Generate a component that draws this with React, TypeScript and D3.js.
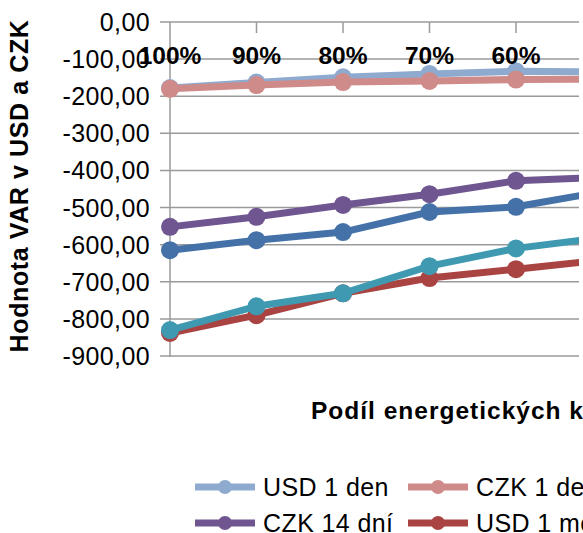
import { useEffect, useRef } from 'react';
import * as d3 from 'd3';

// podíl energetických komodit (kategorie)
const categories = ['100%', '90%', '80%', '70%', '60%', '50%'];

// hodnoty VAR jednotlivých řad
const usd1den = [-178, -163, -149, -140, -133, -134];
const czk1den = [-180, -170, -162, -159, -155, -154];
const usd14dni = [-615, -588, -566, -512, -498, -457];
const czk14dni = [-552, -525, -493, -464, -428, -418];
const usd1mesic = [-838, -790, -731, -690, -666, -641];
const czk1mesic = [-830, -766, -731, -658, -610, -581];

const seriesNames = ['USD 1 den', 'CZK 1 den', 'USD 14 dní', 'CZK 14 dní', 'USD 1 měsíc', 'CZK 1 měsíc'];
const seriesColors = ['#8FAACF', '#CF8B8A', '#4472A8', '#6F5690', '#A94442', '#3F9AB1'];
const yTicks = [0, -100, -200, -300, -400, -500, -600, -700, -800, -900];

function App() {
  const svgRef = useRef(null);

  useEffect(() => {
    const w = 583;
    const h = 533;
    const svg = d3.select(svgRef.current);
    svg.selectAll('*').remove();
    svg.attr('width', w).attr('height', h);

    const font = 'Liberation Sans, Arial, sans-serif';
    const all = [usd1den, czk1den, usd14dni, czk14dni, usd1mesic, czk1mesic];

    const x = d3.scalePoint().domain(categories).range([170, 170 + 86.5 * (categories.length - 1)]);
    const y = d3.scaleLinear().domain([0, -900]).range([22, 356]);
    const right = 579; // plot area ends here, rest is cut

    svg.append('clipPath').attr('id', 'plotclip')
      .append('rect').attr('x', 0).attr('y', 0).attr('width', right).attr('height', h);

    // mřížka
    svg.append('g').selectAll('line').data(yTicks).enter().append('line')
      .attr('x1', 160).attr('x2', right)
      .attr('y1', d => y(d)).attr('y2', d => y(d))
      .attr('stroke', '#9a9a9a').attr('stroke-width', 1.5);

    // osa y
    svg.append('line').attr('x1', 170).attr('x2', 170).attr('y1', y(0)).attr('y2', y(-900) + 1)
      .attr('stroke', '#9a9a9a').attr('stroke-width', 1.5);

    const inPlot = categories.filter(c => x(c) <= right);

    svg.append('g').selectAll('line').data(inPlot.slice(1)).enter().append('line')
      .attr('x1', d => x(d)).attr('x2', d => x(d))
      .attr('y1', y(0)).attr('y2', y(0) + 11)
      .attr('stroke', '#9a9a9a').attr('stroke-width', 1.5);

    svg.append('g').selectAll('text').data(yTicks).enter().append('text')
      .attr('x', 150).attr('y', d => y(d) + 9)
      .attr('text-anchor', 'end')
      .attr('font-family', font).attr('font-size', 25).attr('letter-spacing', 0.4)
      .attr('fill', '#000')
      .text(d => d3.format('.2f')(d).replace('−', '-').replace('.', ','));

    // řady
    const plot = svg.append('g').attr('clip-path', 'url(#plotclip)');
    const line = d3.line<number>().x((d, i) => x(categories[i])).y(d => y(d));
    all.forEach((vals, k) => {
      const g = plot.append('g');
      g.append('path').attr('d', line(vals)).attr('fill', 'none')
        .attr('stroke', seriesColors[k]).attr('stroke-width', 7).attr('stroke-linejoin', 'round');
      g.selectAll('circle').data(vals).enter().append('circle')
        .attr('cx', (d, i) => x(categories[i])).attr('cy', d => y(d))
        .attr('r', 9).attr('fill', seriesColors[k]);
    });

    // popisky kategorií
    svg.append('g').selectAll('text').data(inPlot).enter().append('text')
      .attr('x', d => x(d)).attr('y', 64)
      .attr('text-anchor', 'middle')
      .attr('font-family', font).attr('font-size', 24.5).attr('font-weight', 'bold')
      .text(d => d);

    // názvy os
    svg.append('text')
      .attr('transform', 'translate(28,186) rotate(-90)')
      .attr('text-anchor', 'middle')
      .attr('font-family', font).attr('font-size', 25).attr('font-weight', 'bold')
      .attr('letter-spacing', 0.6)
      .text('Hodnota VAR v USD a CZK');

    svg.append('text')
      .attr('x', 311).attr('y', 419)
      .attr('font-family', font).attr('font-size', 24.5).attr('font-weight', 'bold')
      .attr('letter-spacing', 1)
      .text('Podíl energetických komodit');

    // legenda
    const leg = svg.append('g').selectAll('g').data(seriesNames).enter().append('g')
      .attr('transform', (d, i) => `translate(${195 + (i % 3) * 213},${487 + Math.floor(i / 3) * 36})`);
    leg.append('line').attr('x1', 0).attr('x2', 60).attr('y1', 0).attr('y2', 0)
      .attr('stroke', (d, i) => seriesColors[i]).attr('stroke-width', 7);
    leg.append('circle').attr('cx', 30).attr('cy', 0).attr('r', 7).attr('fill', (d, i) => seriesColors[i]);
    leg.append('text').attr('x', 68).attr('y', 9)
      .attr('font-family', font).attr('font-size', 25).attr('letter-spacing', 0.4)
      .text(d => d);
  }, []);

  return (
    <div style={{ position: 'absolute', left: 0, top: 0 }}>
      <svg ref={svgRef} style={{ display: 'block' }}></svg>
    </div>
  );
}

export default App;
